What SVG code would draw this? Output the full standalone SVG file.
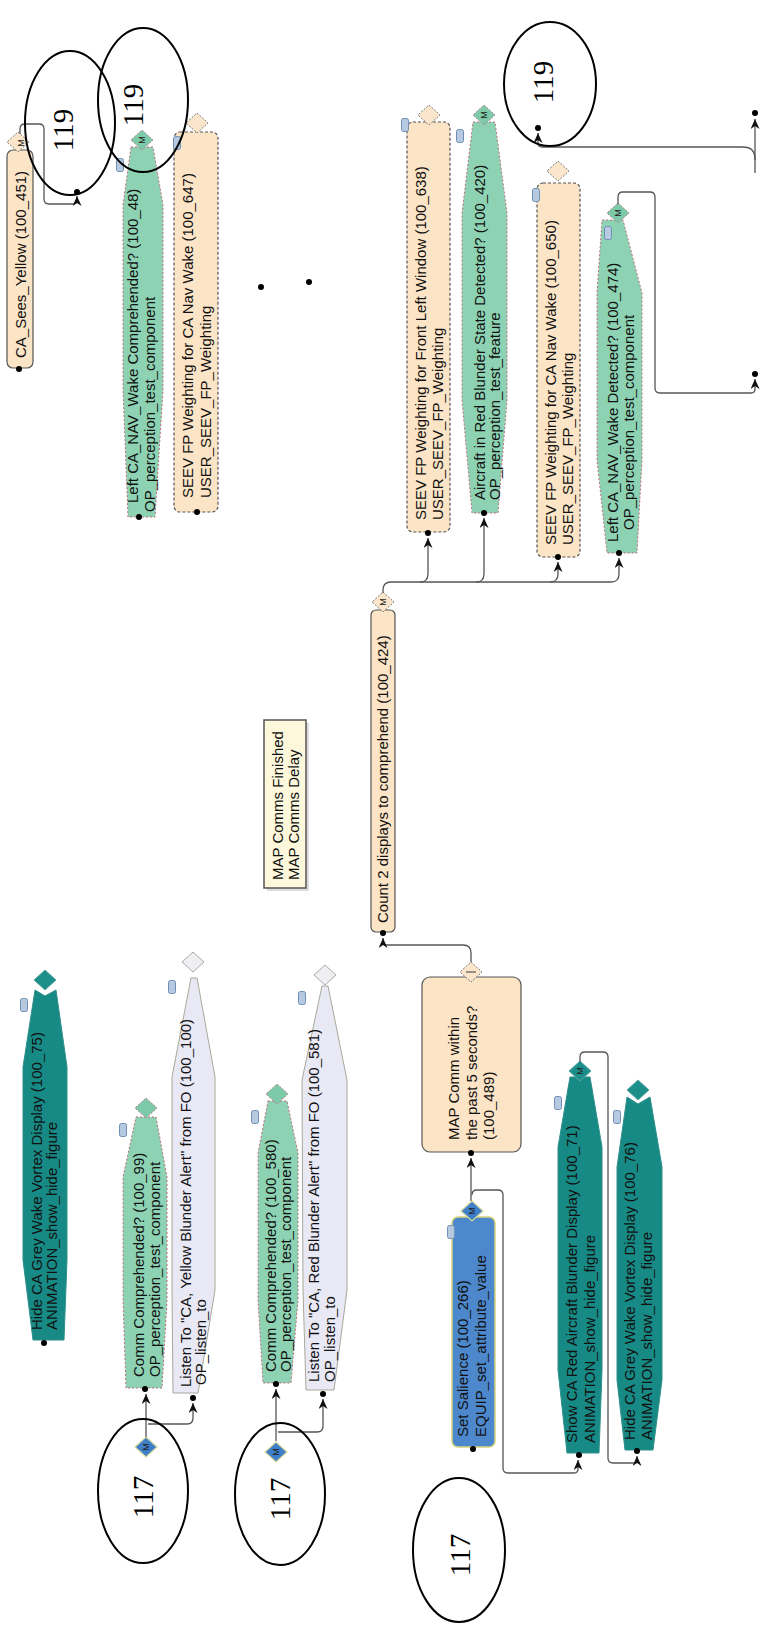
<svg xmlns="http://www.w3.org/2000/svg" xmlns:xlink="http://www.w3.org/1999/xlink" width="761" height="1630" viewBox="0 0 761 1630">
<style>
.t{font-family:"Liberation Sans",Arial,sans-serif;font-size:15px;fill:#111}
.m{font-family:"Liberation Sans",Arial,sans-serif;font-size:9px;fill:#222;text-anchor:middle}
.num{font-family:"Liberation Serif","Times New Roman",serif;font-size:29px;fill:#000;text-anchor:middle}
.peach{fill:#fce4c6;stroke:#555;stroke-width:1.2}
.dash{stroke-dasharray:3 2}
.green{fill:#8dd3b3;stroke:#c36b7d;stroke-width:1;stroke-dasharray:2 2}
.teal{fill:#178a85;stroke:#2e8f8b;stroke-width:1}
.lav{fill:#e9e9f6;stroke:#a9a898;stroke-width:1}
.blue{fill:#4d88cc;stroke:#d6d27a;stroke-width:1.5}
.note{fill:#fdf8dc;stroke:#555;stroke-width:1.5}
.dpeach{fill:#fbe6cc;stroke:#777;stroke-width:1;stroke-dasharray:2 1.5}
.dgreen{fill:#7ccaa8;stroke:#b0808e;stroke-width:1;stroke-dasharray:2 1.5}
.dteal{fill:#1c8f8a;stroke:#5aa5a1;stroke-width:1}
.dlav{fill:#efeff2;stroke:#aaa;stroke-width:1}
.dblue{fill:#3f7fc7;stroke:#d8d8a0;stroke-width:1.2}
.lnk{fill:#b6c9e1;stroke:#6f8fb5;stroke-width:1}
.dot{fill:#000}
.c{fill:none;stroke:#555;stroke-width:1.3;marker-end:url(#arr)}
.cn{fill:none;stroke:#555;stroke-width:1.3}
.ell{fill:none;stroke:#000;stroke-width:2}
</style>
<defs>
<marker id="arr" viewBox="0 0 10 9" refX="10" refY="4.5" markerWidth="10" markerHeight="9" markerUnits="userSpaceOnUse" orient="auto">
<path d="M0,0 L10,4.5 L0,9 L3,4.5 Z" fill="#111"/>
</marker>
<path id="dia" d="M0,-10 L11,0 L0,10 L-11,0 Z"/>
<rect id="lk" x="-3.5" y="-6.5" width="7" height="13" rx="2"/>
</defs>
<rect width="761" height="1630" fill="#fff"/>

<g id="nodes">
<g id="n451">
<rect class="peach" x="7" y="150" width="26" height="218" rx="6"/>
<use href="#dia" x="18" y="142" class="dpeach"/>
<text class="m" transform="translate(24,143) rotate(-90)">M</text>
<circle class="dot" cx="19" cy="369" r="3"/>
<text class="t" transform="translate(26,358) rotate(-90)">CA_Sees_Yellow (100_451)</text>
</g>
<g id="n48">
<polygon class="green" points="131,147 153,147 163,205 163,390 155,517 128,517 123,390 123,205"/>
<use href="#dia" x="142" y="140" class="dgreen"/>
<text class="m" transform="translate(145,140) rotate(-90)">M</text>
<use href="#lk" x="120" y="165" class="lnk"/>
<circle class="dot" cx="139" cy="517" r="3"/>
<text class="t" transform="translate(138,503) rotate(-90)">Left CA_NAV_Wake Comprehended? (100_48)</text>
<text class="t" transform="translate(155,512) rotate(-90)">OP_perception_test_component</text>
</g>
<g id="n647">
<rect class="peach dash" x="174" y="132" width="44" height="380" rx="6"/>
<use href="#dia" x="197" y="123" class="dpeach"/>
<use href="#lk" x="177" y="143" class="lnk"/>
<circle class="dot" cx="197" cy="512" r="3"/>
<text class="t" transform="translate(193,498) rotate(-90)">SEEV FP Weighting for CA Nav Wake (100_647)</text>
<text class="t" transform="translate(211,498) rotate(-90)">USER_SEEV_FP_Weighting</text>
</g>
<g id="n638">
<rect class="peach dash" x="407" y="122" width="43" height="410" rx="6"/>
<use href="#dia" x="429" y="115" class="dpeach"/>
<use href="#lk" x="405" y="125" class="lnk"/>
<circle class="dot" cx="428" cy="533" r="3"/>
<text class="t" transform="translate(426,520) rotate(-90)">SEEV FP Weighting for Front Left Window (100_638)</text>
<text class="t" transform="translate(443,520) rotate(-90)">USER_SEEV_FP_Weighting</text>
</g>
<g id="n420">
<polygon class="green" points="473,122 495,122 507,213 507,400 498,513 472,513 462,400 462,213"/>
<use href="#dia" x="484" y="115" class="dgreen"/>
<text class="m" transform="translate(487,115) rotate(-90)">M</text>
<use href="#lk" x="460" y="136" class="lnk"/>
<circle class="dot" cx="484" cy="513" r="3"/>
<text class="t" transform="translate(485,500) rotate(-90)">Aircraft in Red Blunder State Detected? (100_420)</text>
<text class="t" transform="translate(500,500) rotate(-90)">OP_perception_test_feature</text>
</g>
<g id="n650">
<rect class="peach dash" x="537" y="183" width="43" height="374" rx="6"/>
<use href="#dia" x="558" y="171" class="dpeach"/>
<use href="#lk" x="536" y="195" class="lnk"/>
<circle class="dot" cx="558" cy="557" r="3"/>
<text class="t" transform="translate(556,545) rotate(-90)">SEEV FP Weighting for CA Nav Wake (100_650)</text>
<text class="t" transform="translate(573,545) rotate(-90)">USER_SEEV_FP_Weighting</text>
</g>
<g id="n474">
<polygon class="green" points="602,220 623,220 642,293 642,460 637,553 607,553 597,460 597,293"/>
<use href="#dia" x="618" y="213" class="dgreen"/>
<text class="m" transform="translate(621,213) rotate(-90)">M</text>
<use href="#lk" x="608" y="233" class="lnk"/>
<circle class="dot" cx="619" cy="553" r="3"/>
<text class="t" transform="translate(618,542) rotate(-90)">Left CA_NAV_Wake Detected? (100_474)</text>
<text class="t" transform="translate(634,530) rotate(-90)">OP_perception_test_component</text>
</g>
<g id="n424">
<rect class="peach" x="371" y="610" width="24" height="322" rx="5"/>
<use href="#dia" x="383" y="602" class="dpeach"/>
<text class="m" transform="translate(386,602) rotate(-90)">M</text>
<circle class="dot" cx="383" cy="933" r="3"/>
<text class="t" transform="translate(388,923) rotate(-90)">Count 2 displays to comprehend (100_424)</text>
</g>
<g id="note">
<rect x="267" y="723" width="42" height="168" fill="#bbb" opacity="0.5"/>
<rect class="note" x="264" y="720" width="42" height="168"/>
<text class="t" transform="translate(283,880) rotate(-90)">MAP Comms Finished</text>
<text class="t" transform="translate(299,880) rotate(-90)">MAP Comms Delay</text>
</g>
<g id="n489">
<rect class="peach" x="422" y="977" width="99" height="175" rx="8"/>
<use href="#dia" x="471" y="972" class="dpeach"/>
<line x1="466" y1="972" x2="476" y2="972" stroke="#555" stroke-width="1.2"/>
<circle class="dot" cx="471" cy="1153" r="3"/>
<text class="t" transform="translate(459,1140) rotate(-90)">MAP Comm within</text>
<text class="t" transform="translate(477,1140) rotate(-90)">the past 5 seconds?</text>
<text class="t" transform="translate(494,1140) rotate(-90)">(100_489)</text>
</g>
<g id="n266">
<rect class="blue" x="452" y="1217" width="43" height="230" rx="6"/>
<use href="#dia" x="472" y="1211" class="dblue"/>
<text class="m" transform="translate(475,1211) rotate(-90)">M</text>
<use href="#lk" x="451" y="1232" class="lnk"/>
<circle class="dot" cx="473" cy="1449" r="3"/>
<text class="t" transform="translate(468,1437) rotate(-90)">Set Salience (100_266)</text>
<text class="t" transform="translate(486,1437) rotate(-90)">EQUIP_set_attribute_value</text>
</g>
<g id="n71">
<polygon class="teal" points="570,1077 590,1077 602,1147 602,1370 599,1453 567,1453 558,1370 558,1147"/>
<use href="#dia" x="580" y="1071" class="dteal"/>
<text class="m" transform="translate(583,1071) rotate(-90)">M</text>
<use href="#lk" x="558" y="1103" class="lnk"/>
<circle class="dot" cx="579" cy="1455" r="3"/>
<text class="t" transform="translate(577,1443) rotate(-90)">Show CA Red Aircraft Blunder Display (100_71)</text>
<text class="t" transform="translate(595,1443) rotate(-90)">ANIMATION_show_hide_figure</text>
</g>
<g id="n76">
<polygon class="teal" points="627,1097 638,1104 650,1097 662,1167 662,1380 653,1450 625,1450 617,1380 617,1167"/>
<use href="#dia" x="638" y="1090" class="dteal"/>
<use href="#lk" x="617" y="1117" class="lnk"/>
<circle class="dot" cx="637" cy="1451" r="3"/>
<text class="t" transform="translate(635,1440) rotate(-90)">Hide CA Grey Wake Vortex Display (100_76)</text>
<text class="t" transform="translate(652,1440) rotate(-90)">ANIMATION_show_hide_figure</text>
</g>
<g id="n75">
<polygon class="teal" points="35,990 45,996 56,990 67,1067 67,1260 64,1340 33,1340 23,1260 23,1067"/>
<use href="#dia" x="45" y="980" class="dteal"/>
<use href="#lk" x="24" y="1005" class="lnk"/>
<circle class="dot" cx="44" cy="1343" r="3"/>
<text class="t" transform="translate(42,1330) rotate(-90)">Hide CA Grey Wake Vortex Display (100_75)</text>
<text class="t" transform="translate(57,1330) rotate(-90)">ANIMATION_show_hide_figure</text>
</g>
<g id="n99">
<polygon class="green" points="136,1117 156,1117 167,1177 167,1300 162,1388 126,1388 123,1300 123,1177"/>
<use href="#dia" x="146" y="1108" class="dgreen"/>
<use href="#lk" x="123" y="1130" class="lnk"/>
<circle class="dot" cx="145" cy="1389" r="3"/>
<text class="t" transform="translate(144,1377) rotate(-90)">Comm Comprehended? (100_99)</text>
<text class="t" transform="translate(160,1377) rotate(-90)">OP_perception_test_component</text>
</g>
<g id="n100">
<polygon class="lav" points="191,978 197,978 215,1077 215,1290 198,1393 173,1393 172,1290 172,1077"/>
<use href="#dia" x="193" y="962" class="dlav"/>
<use href="#lk" x="172" y="987" class="lnk"/>
<circle class="dot" cx="193" cy="1398" r="3"/>
<text class="t" transform="translate(191,1387) rotate(-90)">Listen To "CA, Yellow Blunder Alert" from FO (100_100)</text>
<text class="t" transform="translate(206,1385) rotate(-90)">OP_listen_to</text>
</g>
<g id="n580">
<polygon class="green" points="268,1101 287,1101 298,1153 298,1300 291,1383 263,1383 258,1300 258,1153"/>
<use href="#dia" x="277" y="1094" class="dgreen"/>
<use href="#lk" x="255" y="1117" class="lnk"/>
<circle class="dot" cx="276" cy="1384" r="3"/>
<text class="t" transform="translate(276,1372) rotate(-90)">Comm Comprehended? (100_580)</text>
<text class="t" transform="translate(291,1372) rotate(-90)">OP_perception_test_component</text>
</g>
<g id="n581">
<polygon class="lav" points="322,986 328,986 347,1080 347,1290 334,1390 306,1390 303,1290 302,1080"/>
<use href="#dia" x="325" y="975" class="dlav"/>
<use href="#lk" x="302" y="998" class="lnk"/>
<circle class="dot" cx="323" cy="1394" r="3"/>
<text class="t" transform="translate(319,1382) rotate(-90)">Listen To "CA, Red Blunder Alert" from FO (100_581)</text>
<text class="t" transform="translate(335,1382) rotate(-90)">OP_listen_to</text>
</g>
<g id="start1">
<use href="#dia" x="146" y="1447" class="dblue"/>
<text class="m" transform="translate(149,1447) rotate(-90)">M</text>
</g>
<g id="start2">
<use href="#dia" x="276" y="1452" class="dblue"/>
<text class="m" transform="translate(279,1452) rotate(-90)">M</text>
</g>
<g id="ends">
<circle class="dot" cx="77" cy="192" r="3"/>
<circle class="dot" cx="538" cy="128" r="3"/>
<circle class="dot" cx="755" cy="113" r="3"/>
<circle class="dot" cx="755" cy="374" r="3"/>
<circle class="dot" cx="261" cy="287" r="3"/>
<circle class="dot" cx="309" cy="282" r="3"/>
</g>
</g>

<g id="connectors">
<path class="c" d="M20 134 V129 Q20 124 25 124 H39 Q44 124 44 129 V199 Q44 204 49 204 H73 Q77 204 77 200 V196"/>
<path class="c" d="M755 173 V159 Q755 147 743 147 H542 Q538 147 538 143 V133"/>
<path class="c" d="M755 160 V119"/>
<path class="c" d="M618 204 V197 Q618 192 623 192 H650 Q655 192 655 197 V388 Q655 393 660 393 H751 Q755 393 755 389 V379"/>
<path class="c" d="M383 593 V590 Q383 582 391 582 H420 Q428 582 428 574 V538"/>
<path class="c" d="M420 582 H476 Q484 582 484 574 V518"/>
<path class="c" d="M476 582 H550 Q558 582 558 574 V562"/>
<path class="c" d="M550 582 H611 Q619 582 619 574 V558"/>
<path class="c" d="M471 962 V953 Q471 945 463 945 H387 Q383 945 383 941 V938"/>
<path class="c" d="M471 1201 V1158"/>
<path class="c" d="M472 1195 Q472 1190 477 1190 H498 Q503 1190 503 1195 V1468 Q503 1473 508 1473 H574 Q578 1473 578 1469 V1460"/>
<path class="c" d="M580 1062 V1057 Q580 1052 585 1052 H603 Q608 1052 608 1057 V1458 Q608 1463 613 1463 H633 Q637 1463 637 1459 V1456"/>
<path class="c" d="M146 1437 V1394"/>
<path class="c" d="M148 1424 H187 Q193 1424 193 1418 V1403"/>
<path class="c" d="M276 1441 V1389"/>
<path class="c" d="M278 1432 H317 Q323 1432 323 1426 V1399"/>
</g>

<g id="callouts">
<ellipse class="ell" cx="70" cy="123" rx="45" ry="72"/>
<text class="num" transform="translate(73,130) rotate(-90)">119</text>
<ellipse class="ell" cx="143" cy="100" rx="45" ry="72"/>
<text class="num" transform="translate(143,105) rotate(-90)">119</text>
<ellipse class="ell" cx="550" cy="84" rx="46" ry="62"/>
<text class="num" transform="translate(553,82) rotate(-90)">119</text>
<ellipse class="ell" cx="143" cy="1491" rx="45" ry="72"/>
<text class="num" transform="translate(153,1497) rotate(-90)">117</text>
<ellipse class="ell" cx="280" cy="1494" rx="45" ry="71"/>
<text class="num" transform="translate(290,1499) rotate(-90)">117</text>
<ellipse class="ell" cx="459" cy="1550" rx="46" ry="72"/>
<text class="num" transform="translate(470,1555) rotate(-90)">117</text>
</g>
</svg>
